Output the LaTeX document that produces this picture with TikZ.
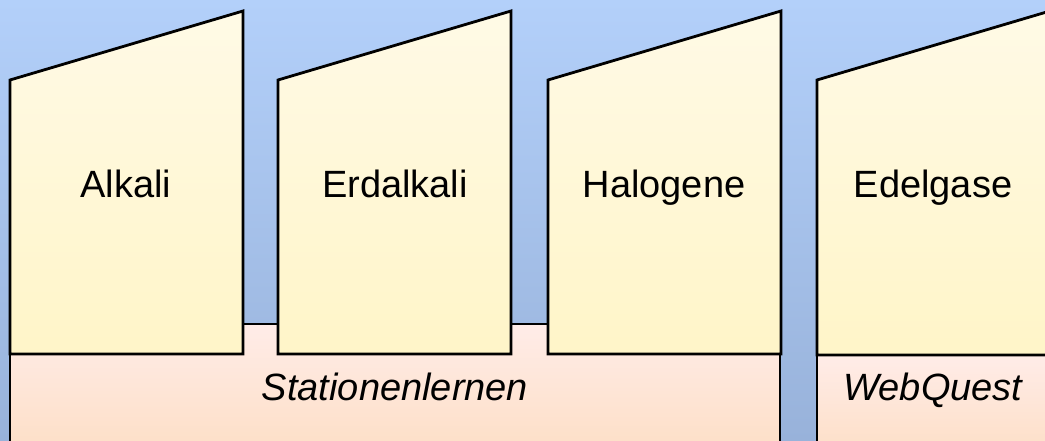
\documentclass[tikz,border=0pt]{standalone}
\usepackage{fontspec}
\setmainfont{Liberation Sans}
\definecolor{skytop}{RGB}{179,208,250}
\definecolor{skybot}{RGB}{152,178,218}
\definecolor{coltop}{RGB}{255,250,230}
\definecolor{colbot}{RGB}{255,245,200}
\definecolor{basetop}{RGB}{255,236,232}
\definecolor{basebot}{RGB}{253,222,196}
\tikzset{
	columnstyle/.style={draw=black,line width=2.8pt,line join=miter,top color=coltop,bottom color=colbot},
	basestyle/.style={draw=black,line width=2.8pt,line join=miter,top color=basetop,bottom color=basebot},
	labelstyle/.style={anchor=base,inner sep=0pt,font=\fontsize{38}{44}\selectfont},
	methodstyle/.style={anchor=base,inner sep=0pt,font=\fontsize{38}{44}\selectfont\itshape}
}
\begin{document}
\begin{tikzpicture}[x=1pt,y=-1pt]
	\useasboundingbox (0,0) rectangle (1045,441);
	\clip (0,0) rectangle (1045,441);
	\shade[top color=skytop,bottom color=skybot] (0,0) rectangle (1045,441);
	% methods
	\draw[basestyle] (10,460) -- (10,324) -- (780,324) -- (780,460);
	\draw[basestyle] (817,460) -- (817,355) -- (1060,355) -- (1060,460);
	% groups
	\draw[columnstyle] (10,354) -- (10,80) -- (243,11) -- (243,354) -- cycle;
	\draw[columnstyle] (278,354) -- (278,80) -- (511,11) -- (511,354) -- cycle;
	\draw[columnstyle] (548,354) -- (548,80) -- (781,11) -- (781,354) -- cycle;
	\draw[columnstyle] (817,355) -- (817,80) -- (1050,11) -- (1050,355) -- cycle;
	\node[labelstyle] (alkali) at (126,198) {Alkali};
	\node[labelstyle] (erdalkali) at (395,198) {Erdalkali};
	\node[labelstyle] (halogene) at (664,198) {Halogene};
	\node[labelstyle] (edelgase) at (933,198) {Edelgase};
	\node[methodstyle] (stationen) at (395,400) {Stationenlernen};
	\node[methodstyle] (webquest) at (933,400) {WebQuest};
\end{tikzpicture}
\end{document}
